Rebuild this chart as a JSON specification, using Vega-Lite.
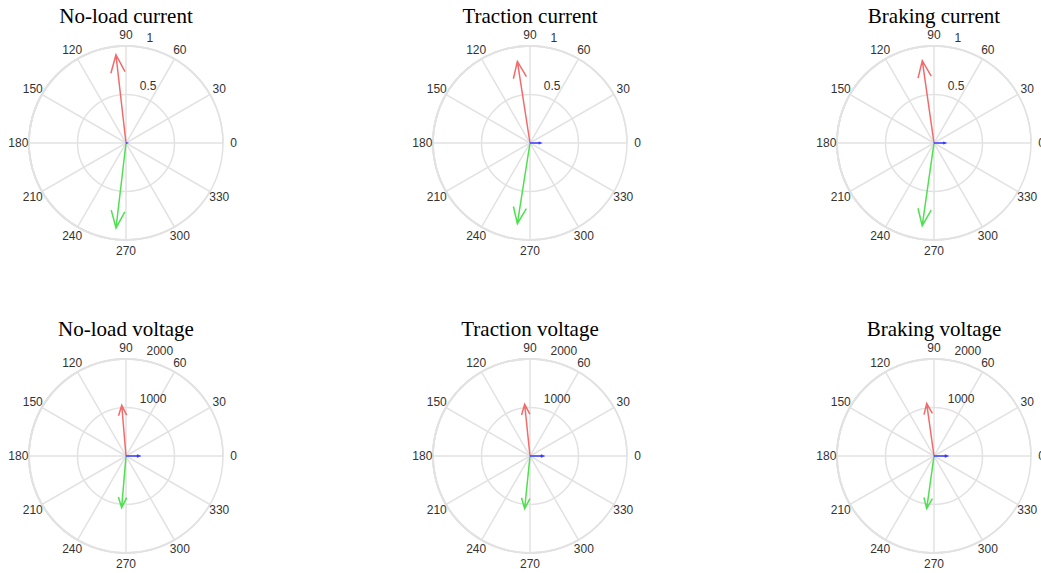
{
  "$schema": "https://vega.github.io/schema/vega-lite/v6.json",
  "padding": {"left": 8, "top": 6, "right": 0, "bottom": 0},
  "background": "white",
  "config": {"view": {"stroke": null}},
  "datasets": {
    "spokes": [{"a": 0, "a2": 180}, {"a": 30, "a2": 210}, {"a": 60, "a2": 240}, {"a": 90, "a2": 270}, {"a": 120, "a2": 300}, {"a": 150, "a2": 330}],
    "angles": [{"a": 0, "label": "0"}, {"a": 30, "label": "30"}, {"a": 60, "label": "60"}, {"a": 90, "label": "90"}, {"a": 120, "label": "120"}, {"a": 150, "label": "150"}, {"a": 180, "label": "180"}, {"a": 210, "label": "210"}, {"a": 240, "label": "240"}, {"a": 270, "label": "270"}, {"a": 300, "label": "300"}, {"a": 330, "label": "330"}],
    "ringsI": [{"r": 0.5, "label": "0.5"}, {"r": 1, "label": "1"}],
    "ringsV": [{"r": 1000, "label": "1000"}, {"r": 2000, "label": "2000"}],
    "phasors": [
      {"panel": "NI", "phasor": "A", "mag": 0.916, "phase": 96.5},
      {"panel": "NI", "phasor": "B", "mag": 0.882, "phase": 263.3},
      {"panel": "NI", "phasor": "C", "mag": 0.01, "phase": 0},
      {"panel": "TI", "phasor": "A", "mag": 0.851, "phase": 98.8},
      {"panel": "TI", "phasor": "B", "mag": 0.842, "phase": 261.1},
      {"panel": "TI", "phasor": "C", "mag": 0.11, "phase": 0},
      {"panel": "BI", "phasor": "A", "mag": 0.857, "phase": 98.1},
      {"panel": "BI", "phasor": "B", "mag": 0.861, "phase": 261.9},
      {"panel": "BI", "phasor": "C", "mag": 0.117, "phase": 0},
      {"panel": "NV", "phasor": "A", "mag": 1049, "phase": 94.8},
      {"panel": "NV", "phasor": "B", "mag": 1068, "phase": 265.2},
      {"panel": "NV", "phasor": "C", "mag": 280, "phase": 0},
      {"panel": "TV", "phasor": "A", "mag": 1072, "phase": 95.9},
      {"panel": "TV", "phasor": "B", "mag": 1091, "phase": 264.2},
      {"panel": "TV", "phasor": "C", "mag": 276, "phase": 0},
      {"panel": "BV", "phasor": "A", "mag": 1091, "phase": 97.9},
      {"panel": "BV", "phasor": "B", "mag": 1095, "phase": 262.1},
      {"panel": "BV", "phasor": "C", "mag": 275, "phase": 0}
    ]
  },
  "columns": 3,
  "spacing": {"row": 119, "column": 210},
  "bounds": "flush",
  "resolve": {"scale": {"size": "independent"}},
  "concat": [
    {
      "width": 194, "height": 194,
      "title": {"text": "No-load current", "font": "Liberation Serif", "fontSize": 21, "fontWeight": "normal", "color": "black", "anchor": "middle", "baseline": "alphabetic", "offset": -15},
      "layer": [
        {"data": {"name": "ringsI"}, "mark": {"type": "arc", "filled": false, "stroke": "#e2e2e2", "strokeWidth": 1.5},
         "encoding": {"theta": {"datum": 0, "scale": {"domain": [0, 360], "range": [1.5707963267948966, -4.71238898038469]}}, "theta2": {"datum": 360}, "radius": {"field": "r", "type": "quantitative", "stack": null, "scale": {"type": "linear", "domain": [0, 1], "range": [0, 97], "zero": true, "nice": false}}, "radius2": {"datum": 0}}},
        {"data": {"name": "spokes"}, "mark": {"type": "arc", "filled": false, "stroke": "#e2e2e2", "strokeWidth": 1.5},
         "encoding": {"theta": {"field": "a", "type": "quantitative", "stack": null}, "theta2": {"field": "a2"}, "radius": {"datum": 1}}},
        {"data": {"name": "angles"}, "mark": {"type": "text", "font": "Liberation Sans", "fontSize": 12, "color": "#333333", "align": "center", "baseline": "middle"},
         "encoding": {"theta": {"field": "a", "type": "quantitative", "stack": null}, "radius": {"datum": 1.11}, "text": {"field": "label"}}},
        {"data": {"name": "ringsI"}, "mark": {"type": "text", "font": "Liberation Sans", "fontSize": 12, "color": "#333333", "align": "left", "baseline": "bottom", "dx": 7, "dy": -2},
         "encoding": {"theta": {"datum": 82}, "radius": {"field": "r", "type": "quantitative", "stack": null}, "text": {"field": "label"}}},
        {"data": {"name": "phasors"}, "transform": [{"filter": "datum.panel === 'NI'"}],
         "mark": {"type": "point", "shape": "M0,0L0,-2M-0.16,-1.6L0,-2L0.16,-1.6", "filled": false, "strokeWidth": 1.5, "opacity": 1},
         "encoding": {"size": {"field": "mag", "type": "quantitative", "scale": {"type": "pow", "exponent": 2, "domain": [0, 1], "range": [0, 9409], "zero": true}, "legend": null},
                      "angle": {"field": "phase", "type": "quantitative", "scale": {"domain": [0, 360], "range": [90, -270]}},
                      "color": {"field": "phasor", "type": "nominal", "scale": {"domain": ["A", "B", "C"], "range": ["#f26b6b", "#4fe04f", "#3a3aff"]}, "legend": null}}}
      ]
    },
    {
      "width": 194, "height": 194,
      "title": {"text": "Traction current", "font": "Liberation Serif", "fontSize": 21, "fontWeight": "normal", "color": "black", "anchor": "middle", "baseline": "alphabetic", "offset": -15},
      "layer": [
        {"data": {"name": "ringsI"}, "mark": {"type": "arc", "filled": false, "stroke": "#e2e2e2", "strokeWidth": 1.5},
         "encoding": {"theta": {"datum": 0, "scale": {"domain": [0, 360], "range": [1.5707963267948966, -4.71238898038469]}}, "theta2": {"datum": 360}, "radius": {"field": "r", "type": "quantitative", "stack": null, "scale": {"type": "linear", "domain": [0, 1], "range": [0, 97], "zero": true, "nice": false}}, "radius2": {"datum": 0}}},
        {"data": {"name": "spokes"}, "mark": {"type": "arc", "filled": false, "stroke": "#e2e2e2", "strokeWidth": 1.5},
         "encoding": {"theta": {"field": "a", "type": "quantitative", "stack": null}, "theta2": {"field": "a2"}, "radius": {"datum": 1}}},
        {"data": {"name": "angles"}, "mark": {"type": "text", "font": "Liberation Sans", "fontSize": 12, "color": "#333333", "align": "center", "baseline": "middle"},
         "encoding": {"theta": {"field": "a", "type": "quantitative", "stack": null}, "radius": {"datum": 1.11}, "text": {"field": "label"}}},
        {"data": {"name": "ringsI"}, "mark": {"type": "text", "font": "Liberation Sans", "fontSize": 12, "color": "#333333", "align": "left", "baseline": "bottom", "dx": 7, "dy": -2},
         "encoding": {"theta": {"datum": 82}, "radius": {"field": "r", "type": "quantitative", "stack": null}, "text": {"field": "label"}}},
        {"data": {"name": "phasors"}, "transform": [{"filter": "datum.panel === 'TI'"}],
         "mark": {"type": "point", "shape": "M0,0L0,-2M-0.16,-1.6L0,-2L0.16,-1.6", "filled": false, "strokeWidth": 1.5, "opacity": 1},
         "encoding": {"size": {"field": "mag", "type": "quantitative", "scale": {"type": "pow", "exponent": 2, "domain": [0, 1], "range": [0, 9409], "zero": true}, "legend": null},
                      "angle": {"field": "phase", "type": "quantitative", "scale": {"domain": [0, 360], "range": [90, -270]}},
                      "color": {"field": "phasor", "type": "nominal", "scale": {"domain": ["A", "B", "C"], "range": ["#f26b6b", "#4fe04f", "#3a3aff"]}, "legend": null}}}
      ]
    },
    {
      "width": 194, "height": 194,
      "title": {"text": "Braking current", "font": "Liberation Serif", "fontSize": 21, "fontWeight": "normal", "color": "black", "anchor": "middle", "baseline": "alphabetic", "offset": -15},
      "layer": [
        {"data": {"name": "ringsI"}, "mark": {"type": "arc", "filled": false, "stroke": "#e2e2e2", "strokeWidth": 1.5},
         "encoding": {"theta": {"datum": 0, "scale": {"domain": [0, 360], "range": [1.5707963267948966, -4.71238898038469]}}, "theta2": {"datum": 360}, "radius": {"field": "r", "type": "quantitative", "stack": null, "scale": {"type": "linear", "domain": [0, 1], "range": [0, 97], "zero": true, "nice": false}}, "radius2": {"datum": 0}}},
        {"data": {"name": "spokes"}, "mark": {"type": "arc", "filled": false, "stroke": "#e2e2e2", "strokeWidth": 1.5},
         "encoding": {"theta": {"field": "a", "type": "quantitative", "stack": null}, "theta2": {"field": "a2"}, "radius": {"datum": 1}}},
        {"data": {"name": "angles"}, "mark": {"type": "text", "font": "Liberation Sans", "fontSize": 12, "color": "#333333", "align": "center", "baseline": "middle"},
         "encoding": {"theta": {"field": "a", "type": "quantitative", "stack": null}, "radius": {"datum": 1.11}, "text": {"field": "label"}}},
        {"data": {"name": "ringsI"}, "mark": {"type": "text", "font": "Liberation Sans", "fontSize": 12, "color": "#333333", "align": "left", "baseline": "bottom", "dx": 7, "dy": -2},
         "encoding": {"theta": {"datum": 82}, "radius": {"field": "r", "type": "quantitative", "stack": null}, "text": {"field": "label"}}},
        {"data": {"name": "phasors"}, "transform": [{"filter": "datum.panel === 'BI'"}],
         "mark": {"type": "point", "shape": "M0,0L0,-2M-0.16,-1.6L0,-2L0.16,-1.6", "filled": false, "strokeWidth": 1.5, "opacity": 1},
         "encoding": {"size": {"field": "mag", "type": "quantitative", "scale": {"type": "pow", "exponent": 2, "domain": [0, 1], "range": [0, 9409], "zero": true}, "legend": null},
                      "angle": {"field": "phase", "type": "quantitative", "scale": {"domain": [0, 360], "range": [90, -270]}},
                      "color": {"field": "phasor", "type": "nominal", "scale": {"domain": ["A", "B", "C"], "range": ["#f26b6b", "#4fe04f", "#3a3aff"]}, "legend": null}}}
      ]
    },
    {
      "width": 194, "height": 194,
      "title": {"text": "No-load voltage", "font": "Liberation Serif", "fontSize": 21, "fontWeight": "normal", "color": "black", "anchor": "middle", "baseline": "alphabetic", "offset": -15},
      "layer": [
        {"data": {"name": "ringsV"}, "mark": {"type": "arc", "filled": false, "stroke": "#e2e2e2", "strokeWidth": 1.5},
         "encoding": {"theta": {"datum": 0, "scale": {"domain": [0, 360], "range": [1.5707963267948966, -4.71238898038469]}}, "theta2": {"datum": 360}, "radius": {"field": "r", "type": "quantitative", "stack": null, "scale": {"type": "linear", "domain": [0, 2000], "range": [0, 97], "zero": true, "nice": false}}, "radius2": {"datum": 0}}},
        {"data": {"name": "spokes"}, "mark": {"type": "arc", "filled": false, "stroke": "#e2e2e2", "strokeWidth": 1.5},
         "encoding": {"theta": {"field": "a", "type": "quantitative", "stack": null}, "theta2": {"field": "a2"}, "radius": {"datum": 2000}}},
        {"data": {"name": "angles"}, "mark": {"type": "text", "font": "Liberation Sans", "fontSize": 12, "color": "#333333", "align": "center", "baseline": "middle"},
         "encoding": {"theta": {"field": "a", "type": "quantitative", "stack": null}, "radius": {"datum": 2220}, "text": {"field": "label"}}},
        {"data": {"name": "ringsV"}, "mark": {"type": "text", "font": "Liberation Sans", "fontSize": 12, "color": "#333333", "align": "left", "baseline": "bottom", "dx": 7, "dy": -2},
         "encoding": {"theta": {"datum": 82}, "radius": {"field": "r", "type": "quantitative", "stack": null}, "text": {"field": "label"}}},
        {"data": {"name": "phasors"}, "transform": [{"filter": "datum.panel === 'NV'"}],
         "mark": {"type": "point", "shape": "M0,0L0,-2M-0.16,-1.6L0,-2L0.16,-1.6", "filled": false, "strokeWidth": 1.5, "opacity": 1},
         "encoding": {"size": {"field": "mag", "type": "quantitative", "scale": {"type": "pow", "exponent": 2, "domain": [0, 2000], "range": [0, 9409], "zero": true}, "legend": null},
                      "angle": {"field": "phase", "type": "quantitative", "scale": {"domain": [0, 360], "range": [90, -270]}},
                      "color": {"field": "phasor", "type": "nominal", "scale": {"domain": ["A", "B", "C"], "range": ["#f26b6b", "#4fe04f", "#3a3aff"]}, "legend": null}}}
      ]
    },
    {
      "width": 194, "height": 194,
      "title": {"text": "Traction voltage", "font": "Liberation Serif", "fontSize": 21, "fontWeight": "normal", "color": "black", "anchor": "middle", "baseline": "alphabetic", "offset": -15},
      "layer": [
        {"data": {"name": "ringsV"}, "mark": {"type": "arc", "filled": false, "stroke": "#e2e2e2", "strokeWidth": 1.5},
         "encoding": {"theta": {"datum": 0, "scale": {"domain": [0, 360], "range": [1.5707963267948966, -4.71238898038469]}}, "theta2": {"datum": 360}, "radius": {"field": "r", "type": "quantitative", "stack": null, "scale": {"type": "linear", "domain": [0, 2000], "range": [0, 97], "zero": true, "nice": false}}, "radius2": {"datum": 0}}},
        {"data": {"name": "spokes"}, "mark": {"type": "arc", "filled": false, "stroke": "#e2e2e2", "strokeWidth": 1.5},
         "encoding": {"theta": {"field": "a", "type": "quantitative", "stack": null}, "theta2": {"field": "a2"}, "radius": {"datum": 2000}}},
        {"data": {"name": "angles"}, "mark": {"type": "text", "font": "Liberation Sans", "fontSize": 12, "color": "#333333", "align": "center", "baseline": "middle"},
         "encoding": {"theta": {"field": "a", "type": "quantitative", "stack": null}, "radius": {"datum": 2220}, "text": {"field": "label"}}},
        {"data": {"name": "ringsV"}, "mark": {"type": "text", "font": "Liberation Sans", "fontSize": 12, "color": "#333333", "align": "left", "baseline": "bottom", "dx": 7, "dy": -2},
         "encoding": {"theta": {"datum": 82}, "radius": {"field": "r", "type": "quantitative", "stack": null}, "text": {"field": "label"}}},
        {"data": {"name": "phasors"}, "transform": [{"filter": "datum.panel === 'TV'"}],
         "mark": {"type": "point", "shape": "M0,0L0,-2M-0.16,-1.6L0,-2L0.16,-1.6", "filled": false, "strokeWidth": 1.5, "opacity": 1},
         "encoding": {"size": {"field": "mag", "type": "quantitative", "scale": {"type": "pow", "exponent": 2, "domain": [0, 2000], "range": [0, 9409], "zero": true}, "legend": null},
                      "angle": {"field": "phase", "type": "quantitative", "scale": {"domain": [0, 360], "range": [90, -270]}},
                      "color": {"field": "phasor", "type": "nominal", "scale": {"domain": ["A", "B", "C"], "range": ["#f26b6b", "#4fe04f", "#3a3aff"]}, "legend": null}}}
      ]
    },
    {
      "width": 194, "height": 194,
      "title": {"text": "Braking voltage", "font": "Liberation Serif", "fontSize": 21, "fontWeight": "normal", "color": "black", "anchor": "middle", "baseline": "alphabetic", "offset": -15},
      "layer": [
        {"data": {"name": "ringsV"}, "mark": {"type": "arc", "filled": false, "stroke": "#e2e2e2", "strokeWidth": 1.5},
         "encoding": {"theta": {"datum": 0, "scale": {"domain": [0, 360], "range": [1.5707963267948966, -4.71238898038469]}}, "theta2": {"datum": 360}, "radius": {"field": "r", "type": "quantitative", "stack": null, "scale": {"type": "linear", "domain": [0, 2000], "range": [0, 97], "zero": true, "nice": false}}, "radius2": {"datum": 0}}},
        {"data": {"name": "spokes"}, "mark": {"type": "arc", "filled": false, "stroke": "#e2e2e2", "strokeWidth": 1.5},
         "encoding": {"theta": {"field": "a", "type": "quantitative", "stack": null}, "theta2": {"field": "a2"}, "radius": {"datum": 2000}}},
        {"data": {"name": "angles"}, "mark": {"type": "text", "font": "Liberation Sans", "fontSize": 12, "color": "#333333", "align": "center", "baseline": "middle"},
         "encoding": {"theta": {"field": "a", "type": "quantitative", "stack": null}, "radius": {"datum": 2220}, "text": {"field": "label"}}},
        {"data": {"name": "ringsV"}, "mark": {"type": "text", "font": "Liberation Sans", "fontSize": 12, "color": "#333333", "align": "left", "baseline": "bottom", "dx": 7, "dy": -2},
         "encoding": {"theta": {"datum": 82}, "radius": {"field": "r", "type": "quantitative", "stack": null}, "text": {"field": "label"}}},
        {"data": {"name": "phasors"}, "transform": [{"filter": "datum.panel === 'BV'"}],
         "mark": {"type": "point", "shape": "M0,0L0,-2M-0.16,-1.6L0,-2L0.16,-1.6", "filled": false, "strokeWidth": 1.5, "opacity": 1},
         "encoding": {"size": {"field": "mag", "type": "quantitative", "scale": {"type": "pow", "exponent": 2, "domain": [0, 2000], "range": [0, 9409], "zero": true}, "legend": null},
                      "angle": {"field": "phase", "type": "quantitative", "scale": {"domain": [0, 360], "range": [90, -270]}},
                      "color": {"field": "phasor", "type": "nominal", "scale": {"domain": ["A", "B", "C"], "range": ["#f26b6b", "#4fe04f", "#3a3aff"]}, "legend": null}}}
      ]
    }
  ]
}
